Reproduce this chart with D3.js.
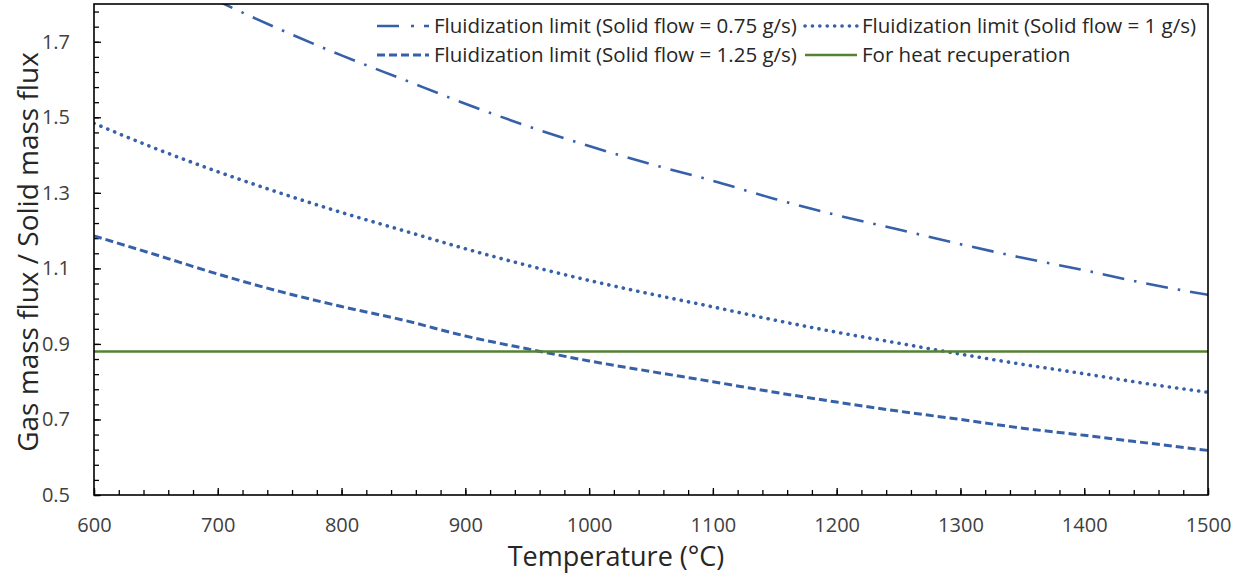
<!DOCTYPE html>
<html>
<head>
<meta charset="utf-8">
<script src="https://cdn.jsdelivr.net/npm/d3@7"></script>
<style>
  body { margin: 0; background: #fff; }
  text { font-family: "Open Sans", sans-serif; }
</style>
</head>
<body>
<script>
// temperatures (°C)
var temps = [600, 650, 700, 750, 800, 850, 900, 950, 1000, 1050, 1100, 1150, 1200, 1250, 1300, 1350, 1400, 1450, 1500];
// fluidization limits (first points lie above the axis and are clipped)
var flow075 = [1.978, 1.889, 1.808, 1.733, 1.664, 1.600, 1.536, 1.477, 1.424, 1.376, 1.332, 1.284, 1.241, 1.203, 1.164, 1.128, 1.095, 1.060, 1.030];
var flow100 = [1.484, 1.417, 1.356, 1.300, 1.248, 1.200, 1.152, 1.108, 1.068, 1.032, 0.998, 0.963, 0.931, 0.902, 0.873, 0.846, 0.821, 0.795, 0.772];
var flow125 = [1.186, 1.136, 1.085, 1.039, 0.999, 0.963, 0.921, 0.887, 0.855, 0.827, 0.800, 0.772, 0.746, 0.722, 0.700, 0.677, 0.658, 0.638, 0.618];
var heatRecup = [0.88, 0.88];
var heatTemps = [600, 1500];

var xTickLabels = [600, 700, 800, 900, 1000, 1100, 1200, 1300, 1400, 1500];
var yTickLabels = [0.5, 0.7, 0.9, 1.1, 1.3, 1.5, 1.7];

var seriesNames = [
  "Fluidization limit (Solid flow = 0.75 g/s)",
  "Fluidization limit (Solid flow = 1 g/s)",
  "Fluidization limit (Solid flow = 1.25 g/s)",
  "For heat recuperation"
];

var svgWidth = 1242;
var svgHeight = 575;
var plotLeft = 94, plotRight = 1208, plotTop = 4, plotBottom = 495;

var blue = "#3660a8";
var green = "#548235";

var xScale = d3.scaleLinear().domain([600, 1500]).range([plotLeft, plotRight]);
var yScale = d3.scaleLinear().domain([0.5, 1.8]).range([plotBottom, plotTop]);

var svg = d3.select("body")
  .append("svg")
  .attr("width", svgWidth)
  .attr("height", svgHeight);

svg.append("clipPath")
  .attr("id", "plot")
  .append("rect")
  .attr("x", plotLeft)
  .attr("y", plotTop)
  .attr("width", plotRight - plotLeft)
  .attr("height", plotBottom - plotTop);

// minor ticks
var xMinor = d3.range(600, 1501, 20);
var yMinor = d3.range(0, 33).map(function(i) { return +(0.5 + i * 0.04).toFixed(2); });

svg.append("g")
  .attr("transform", "translate(0," + plotBottom + ")")
  .call(d3.axisBottom(xScale).tickValues(xMinor).tickSize(-5).tickFormat(""))
  .call(function(g) { g.select(".domain").remove(); })
  .selectAll("line").attr("stroke", "#000").attr("stroke-width", 1.3);

svg.append("g")
  .attr("transform", "translate(" + plotLeft + ",0)")
  .call(d3.axisLeft(yScale).tickValues(yMinor).tickSize(-5).tickFormat(""))
  .call(function(g) { g.select(".domain").remove(); })
  .selectAll("line").attr("stroke", "#000").attr("stroke-width", 1.3);

// major ticks with labels
var xAxis = svg.append("g")
  .attr("transform", "translate(0," + plotBottom + ")")
  .call(d3.axisBottom(xScale).tickValues(xTickLabels).tickSize(-7).tickPadding(23).tickFormat(d3.format("d")));
xAxis.select(".domain").remove();
xAxis.selectAll("line").attr("stroke", "#000").attr("stroke-width", 1.3);
xAxis.selectAll("text").attr("font-size", 20).attr("fill", "#404040").attr("font-family", "Open Sans");

var yAxis = svg.append("g")
  .attr("transform", "translate(" + plotLeft + ",0)")
  .call(d3.axisLeft(yScale).tickValues(yTickLabels).tickSize(-7).tickPadding(24).tickFormat(d3.format(".1f")));
yAxis.select(".domain").remove();
yAxis.selectAll("line").attr("stroke", "#000").attr("stroke-width", 1.3);
yAxis.selectAll("text").attr("font-size", 20).attr("fill", "#404040").attr("font-family", "Open Sans");

// lines
var line = d3.line()
  .x(function(d) { return xScale(d[0]); })
  .y(function(d) { return yScale(d[1]); })
  .curve(d3.curveMonotoneX);

var styles = [
  { data: d3.zip(temps, flow075), color: blue, width: 2.6, dash: "22,10,2.5,10", cap: "butt" },
  { data: d3.zip(temps, flow100), color: blue, width: 3.6, dash: "0.1,7.3", cap: "round" },
  { data: d3.zip(temps, flow125), color: blue, width: 3, dash: "8,4", cap: "butt" },
  { data: d3.zip(heatTemps, heatRecup), color: green, width: 2.5, dash: null, cap: "butt" }
];

svg.append("g")
  .attr("clip-path", "url(#plot)")
  .selectAll("path")
  .data(styles)
  .enter()
  .append("path")
  .attr("d", function(d) { return line(d.data); })
  .attr("fill", "none")
  .attr("stroke", function(d) { return d.color; })
  .attr("stroke-width", function(d) { return d.width; })
  .attr("stroke-dasharray", function(d) { return d.dash; })
  .attr("stroke-linecap", function(d) { return d.cap; });

// plot border
svg.append("rect")
  .attr("x", plotLeft)
  .attr("y", plotTop)
  .attr("width", plotRight - plotLeft)
  .attr("height", plotBottom - plotTop)
  .style("fill", "none")
  .style("stroke", "#000")
  .style("stroke-width", 1.6);

// legend
var legendPos = [[377, 26], [805, 26], [377, 55], [805, 55]];
var legend = svg.append("g")
  .selectAll("g")
  .data(styles)
  .enter()
  .append("g")
  .attr("transform", function(d, i) { return "translate(" + legendPos[i][0] + "," + legendPos[i][1] + ")"; });

legend.append("line")
  .attr("x1", 0).attr("x2", 52).attr("y1", 0).attr("y2", 0)
  .attr("stroke", function(d) { return d.color; })
  .attr("stroke-width", function(d) { return d.width; })
  .attr("stroke-dasharray", function(d, i) { return i === 0 ? "22,12,3,10" : d.dash; })
  .attr("stroke-linecap", function(d) { return d.cap; });

legend.append("text")
  .attr("x", 57)
  .attr("y", 0)
  .attr("dy", "0.35em")
  .attr("font-size", 20.5)
  .attr("fill", "#262626")
  .text(function(d, i) { return seriesNames[i]; });

// axis titles
svg.append("text")
  .attr("x", 616)
  .attr("y", 566)
  .attr("text-anchor", "middle")
  .attr("font-size", 27)
  .attr("fill", "#262626")
  .text("Temperature (°C)");

svg.append("text")
  .attr("transform", "translate(38,252) rotate(-90)")
  .attr("text-anchor", "middle")
  .attr("font-size", 28)
  .attr("fill", "#262626")
  .text("Gas mass flux / Solid mass flux");
</script>
</body>
</html>
